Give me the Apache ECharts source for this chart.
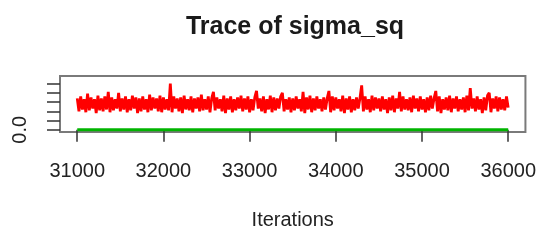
<!DOCTYPE html>
<html>
<head>
<meta charset="utf-8">
<script src="https://cdn.jsdelivr.net/npm/echarts@6/dist/echarts.min.js"></script>
<style>
  html, body { margin: 0; padding: 0; background: #fff; }
  #trace { width: 539px; height: 244px; }
</style>
</head>
<body>
<div id="trace"></div>
<script>
  // iterations 31000..36000, one sample every 20
  const iterStart = 31000;
  const iterStep = 20;
  // sigma_sq draws
  const sigmaSq = [
    0.34,0.20,0.36,0.22,0.33,0.19,0.39,0.21,0.35,0.23,0.33,0.18,0.37,0.21,0.34,0.20,0.36,0.22,0.41,0.19,0.35,0.21,0.33,0.23,0.40,
    0.20,0.34,0.22,0.36,0.19,0.33,0.21,0.37,0.23,0.35,0.18,0.34,0.20,0.36,0.22,0.33,0.19,0.38,0.21,0.35,0.23,0.34,0.20,0.37,0.19,
    0.35,0.22,0.33,0.21,0.50,0.19,0.36,0.23,0.34,0.20,0.35,0.18,0.37,0.22,0.33,0.21,0.36,0.19,0.34,0.23,0.35,0.20,0.38,0.21,0.33,
    0.22,0.36,0.19,0.34,0.41,0.21,0.35,0.23,0.33,0.20,0.37,0.18,0.34,0.22,0.36,0.19,0.33,0.21,0.35,0.23,0.37,0.20,0.34,0.22,0.36,
    0.19,0.33,0.21,0.35,0.42,0.23,0.34,0.20,0.36,0.18,0.33,0.22,0.37,0.19,0.35,0.21,0.34,0.23,0.36,0.40,0.20,0.33,0.22,0.35,0.19,
    0.34,0.21,0.36,0.23,0.33,0.20,0.41,0.18,0.35,0.22,0.37,0.19,0.34,0.21,0.36,0.23,0.33,0.20,0.35,0.22,0.34,0.42,0.19,0.36,0.21,
    0.35,0.23,0.33,0.20,0.37,0.18,0.34,0.22,0.36,0.19,0.33,0.21,0.35,0.23,0.34,0.48,0.20,0.36,0.22,0.33,0.19,0.37,0.21,0.35,0.23,
    0.34,0.20,0.36,0.22,0.33,0.18,0.35,0.21,0.37,0.19,0.34,0.23,0.41,0.20,0.36,0.22,0.33,0.21,0.35,0.19,0.37,0.23,0.34,0.20,0.36,
    0.22,0.33,0.19,0.35,0.21,0.37,0.23,0.34,0.42,0.20,0.36,0.18,0.33,0.22,0.35,0.21,0.37,0.19,0.34,0.23,0.36,0.20,0.33,0.22,0.35,
    0.19,0.37,0.21,0.45,0.23,0.34,0.20,0.36,0.22,0.33,0.18,0.35,0.21,0.37,0.40,0.19,0.34,0.23,0.36,0.20,0.35,0.22,0.33,0.21,0.36,
    0.24
  ];
  // second chain sits flat at zero
  const flatIter = [31000, 36000];
  const flatVals = [0, 0];
  const xTicks = [31000, 32000, 33000, 34000, 35000, 36000];
  const yTicks = [0, 0.1, 0.2, 0.3, 0.4, 0.5];
  const yLabels = [0];

  const redData = sigmaSq.map((v, i) => [iterStart + i * iterStep, v]);
  const greenData = flatIter.map((x, i) => [x, flatVals[i]]);

  const chart = echarts.init(document.getElementById("trace"), null, { renderer: "canvas" });
  const font = "Liberation Sans, Arial, Helvetica, sans-serif";
  chart.setOption({
    animation: false,
    title: {
      text: "Trace of sigma_sq",
      left: 290,
      top: 10,
      textAlign: "center",
      textStyle: { fontFamily: font, fontSize: 25, fontWeight: "bold", color: "#1a1a1a" }
    },
    grid: {
      left: 60,
      right: 12,
      top: 76,
      bottom: 112,
      show: true,
      borderColor: "#7a7a7a",
      borderWidth: 2,
      backgroundColor: "transparent"
    },
    xAxis: {
      type: "value",
      min: 30800,
      max: 36200,
      name: "Iterations",
      nameLocation: "middle",
      nameGap: 78,
      nameTextStyle: { fontFamily: font, fontSize: 20, color: "#222" },
      axisLine: { show: false },
      splitLine: { show: false },
      axisTick: { show: true, length: 12, customValues: xTicks, lineStyle: { color: "#333", width: 1.5 } },
      axisLabel: {
        customValues: xTicks,
        margin: 29,
        fontFamily: font,
        fontSize: 20,
        color: "#222",
        formatter: v => String(v)
      }
    },
    yAxis: {
      type: "value",
      min: -0.024,
      max: 0.582,
      axisLine: { show: false },
      splitLine: { show: false },
      axisTick: { show: true, length: 13, customValues: yTicks, lineStyle: { color: "#333", width: 1.5 } },
      axisLabel: {
        customValues: yLabels,
        rotate: 90,
        margin: 30,
        fontFamily: font,
        fontSize: 20,
        color: "#222",
        formatter: v => v.toFixed(1)
      }
    },
    series: [
      {
        type: "line",
        data: redData,
        symbol: "none",
        sampling: null,
        lineStyle: { color: "#ff0000", width: 2.8 },
        z: 3
      },
      {
        type: "line",
        data: greenData,
        symbol: "none",
        lineStyle: { color: "#00b400", width: 3 },
        z: 2
      }
    ]
  });
</script>
</body>
</html>
